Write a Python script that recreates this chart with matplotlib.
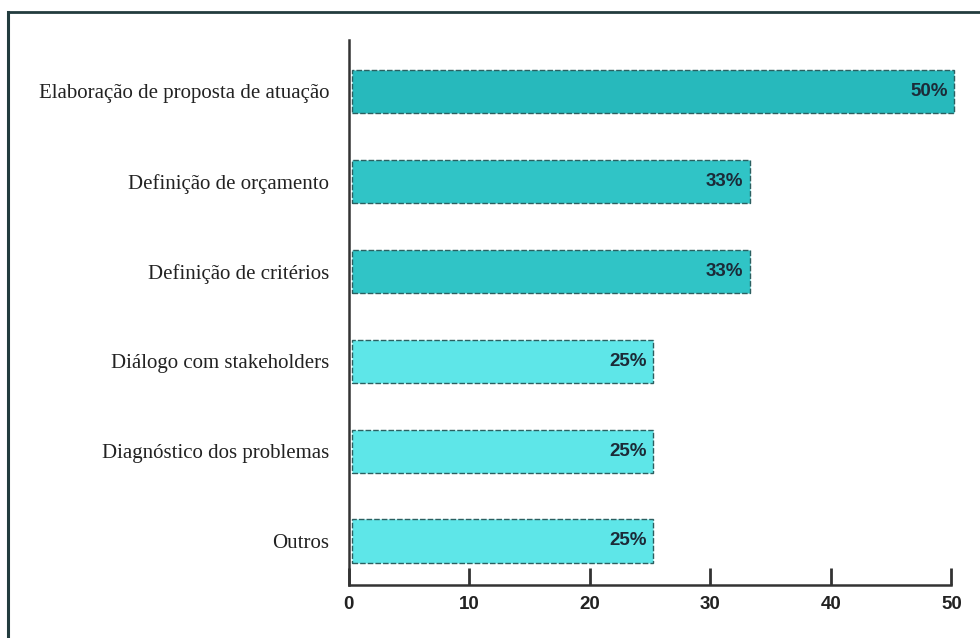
import matplotlib.pyplot as plt
from matplotlib.lines import Line2D

categories = [
    "Elaboração de proposta de atuação",
    "Definição de orçamento",
    "Definição de critérios",
    "Diálogo com stakeholders",
    "Diagnóstico dos problemas",
    "Outros",
]
values = [50, 33, 33, 25, 25, 25]
value_labels = ["50%", "33%", "33%", "25%", "25%", "25%"]
bar_colors = ["#27b9bc", "#30c4c6", "#30c4c6", "#5ee6e8", "#5ee6e8", "#5ee6e8"]
x_ticks = [0, 10, 20, 30, 40, 50]

label_font = ["Liberation Sans", "DejaVu Sans"]
ink = "#1c2b38"

fig = plt.figure(figsize=(9.8, 6.38), dpi=100)
ax = fig.add_axes([0.356, 0.083, 0.621, 0.854])

# top row first
ypos = [len(categories) - 1 - i for i in range(len(categories))]
ax.barh(ypos, values, height=0.48, left=0.25, color=bar_colors,
        edgecolor="#2b5f60", linewidth=1.0, linestyle=(0, (4, 1.5)))

for y, v, lab in zip(ypos, values, value_labels):
    ax.text(v - 0.3, y, lab, ha="right", va="center", fontsize=13.5,
            fontweight="bold", color=ink, family=label_font)

ax.set_xlim(0, 50.5)
ax.set_ylim(-0.49, 5.57)

ax.set_yticks(ypos)
ax.set_yticklabels(categories, family="Liberation Serif", fontsize=15, color="#222222")
ax.tick_params(axis="y", length=0, pad=14)

ax.set_xticks(x_ticks)
ax.set_xticklabels([str(t) for t in x_ticks], family=label_font, fontsize=13.5,
                   fontweight="bold", color="#222222")
ax.tick_params(axis="x", direction="in", length=12, width=2, color="#333333", pad=8)

for side in ["top", "right"]:
    ax.spines[side].set_visible(False)
for side in ["left", "bottom"]:
    ax.spines[side].set_color("#333333")
    ax.spines[side].set_linewidth(1.8)
ax.spines["bottom"].set_bounds(0, 50)

# page frame on the left and top
fig.add_artist(Line2D([0.008, 0.008], [0.0, 0.981], transform=fig.transFigure,
                      color="#233c3e", linewidth=2.2))
fig.add_artist(Line2D([0.008, 1.0], [0.981, 0.981], transform=fig.transFigure,
                      color="#233c3e", linewidth=2.0))

fig.savefig("out.png", dpi=100)
